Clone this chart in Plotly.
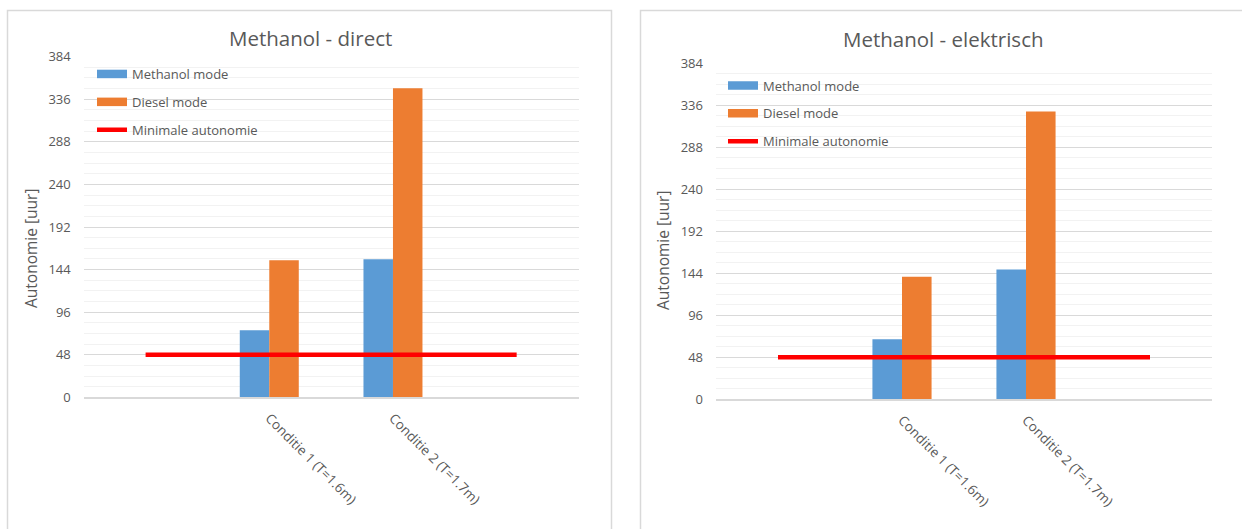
import plotly.graph_objects as go

# Categories (outer two are empty slots so the threshold line spans wider)
categories = ["", "Conditie 1 (T=1.6m)", "Conditie 2 (T=1.7m)", ""]

# Methanol - direct
direct_methanol = [None, 75.5, 155.5, None]
direct_diesel = [None, 154.5, 348.5, None]

# Methanol - elektrisch
elek_methanol = [None, 68.5, 148.3, None]
elek_diesel = [None, 140.0, 329.0, None]

# Minimum required autonomy (hours)
minimale_autonomie = [48, 48, 48, 48]

panel_titles = ["Methanol - direct", "Methanol - elektrisch"]
y_title = "Autonomie [uur]"
y_ticks = [0, 48, 96, 144, 192, 240, 288, 336, 384]
series_names = ["Methanol mode", "Diesel mode", "Minimale autonomie"]

BLUE = "#5b9bd5"
ORANGE = "#ed7d31"
RED = "#ff0000"
TEXT = "#595959"
FONT = "Open Sans"

W, H = 1242, 529
x_pos = list(range(len(categories)))


def px_x(v):
    return v / W


def px_y(v):
    return 1 - v / H


fig = go.Figure()

panels = [
    dict(xa="x", ya="y", legend="legend", m=direct_methanol, d=direct_diesel),
    dict(xa="x2", ya="y2", legend="legend2", m=elek_methanol, d=elek_diesel),
]

for i, p in enumerate(panels):
    fig.add_trace(go.Bar(x=x_pos, y=p["m"], marker=dict(color=BLUE, line=dict(width=0)),
                         name=series_names[0], showlegend=False,
                         xaxis=p["xa"], yaxis=p["ya"]))
    fig.add_trace(go.Bar(x=x_pos, y=p["d"], marker=dict(color=ORANGE, line=dict(width=0)),
                         name=series_names[1], showlegend=False,
                         xaxis=p["xa"], yaxis=p["ya"]))
    fig.add_trace(go.Scatter(x=x_pos, y=minimale_autonomie, mode="lines",
                             line=dict(color=RED, width=4.5),
                             name=series_names[2], showlegend=False,
                             xaxis=p["xa"], yaxis=p["ya"]))
    # legend entries drawn as wide swatches
    for k, (nm, col, w) in enumerate(zip(series_names, [BLUE, ORANGE, RED], [8.5, 8.5, 4.5])):
        fig.add_trace(go.Scatter(x=[None], y=[None], mode="lines",
                                 line=dict(color=col, width=w), name=nm,
                                 legend=p["legend"], legendgroup=f"{p['legend']}_{k}",
                                 xaxis=p["xa"], yaxis=p["ya"]))

# plot-area geometry (pixels)
left_area = dict(x0=83.75, x1=578.5, y0=56.7, y1=397.3)
right_area = dict(x0=716.0, x1=1212.0, y0=63.3, y1=399.3)

axis_common = dict(
    range=[-0.5, 3.5],
    tickvals=[1, 2],
    ticktext=categories[1:3],
    tickangle=45,
    showgrid=False,
    zeroline=False,
    showline=True,
    linecolor="#d9d9d9",
    linewidth=1.5,
    ticks="",
    ticklabelstandoff=6,
    tickfont=dict(family=FONT, size=13.5, color=TEXT),
    automargin=False,
    fixedrange=True,
)
yaxis_common = dict(
    range=[0, 384],
    tickvals=y_ticks,
    showgrid=True,
    gridcolor="#d9d9d9",
    gridwidth=1.2,
    minor=dict(dtick=12, showgrid=True, gridcolor="#f2f2f2", gridwidth=1.2),
    zeroline=False,
    showline=False,
    ticks="",
    ticklabelstandoff=12,
    tickfont=dict(family=FONT, size=13, color=TEXT),
    automargin=False,
    fixedrange=True,
)

legend_common = dict(
    font=dict(family=FONT, size=13, color=TEXT),
    bgcolor="rgba(0,0,0,0)",
    borderwidth=0,
    traceorder="grouped",
    tracegroupgap=8,
    xanchor="left",
    yanchor="top",
    itemclick=False,
    itemdoubleclick=False,
)

fig.update_layout(
    width=W,
    height=H,
    margin=dict(l=0, r=0, t=0, b=0, autoexpand=False),
    paper_bgcolor="white",
    plot_bgcolor="white",
    barmode="group",
    bargap=0.523,
    bargroupgap=0,
    font=dict(family=FONT, color=TEXT),
    xaxis=dict(axis_common, domain=[px_x(left_area["x0"]), px_x(left_area["x1"])], anchor="y"),
    yaxis=dict(yaxis_common, domain=[px_y(left_area["y1"]), px_y(left_area["y0"])], anchor="x"),
    xaxis2=dict(axis_common, domain=[px_x(right_area["x0"]), px_x(right_area["x1"])], anchor="y2"),
    yaxis2=dict(yaxis_common, domain=[px_y(right_area["y1"]), px_y(right_area["y0"])], anchor="x2"),
    legend=dict(legend_common, x=px_x(92), y=px_y(59)),
    legend2=dict(legend_common, x=px_x(723), y=px_y(70.5)),
    showlegend=True,
)

# panel titles
for title, cx, cy in [(panel_titles[0], 310, 38), (panel_titles[1], 943, 39)]:
    fig.add_annotation(text=title, x=px_x(cx), y=px_y(cy), xref="paper", yref="paper",
                       xanchor="center", yanchor="middle", showarrow=False,
                       font=dict(family=FONT, size=20.5, color=TEXT))

# value-axis titles, centred on plot area plus category labels
for cx, cy in [(31, 249), (663, 251)]:
    fig.add_annotation(text=y_title, x=px_x(cx), y=px_y(cy), xref="paper", yref="paper",
                       xanchor="center", yanchor="middle", showarrow=False, textangle=-90,
                       font=dict(family=FONT, size=15.5, color=TEXT))

# panel frames
fig.add_shape(type="rect", xref="paper", yref="paper",
              x0=px_x(7.5), x1=px_x(611.5), y0=px_y(560), y1=px_y(10.5),
              line=dict(color="#d9d9d9", width=1.5), fillcolor="rgba(0,0,0,0)", layer="below")
fig.add_shape(type="rect", xref="paper", yref="paper",
              x0=px_x(640.5), x1=px_x(1280), y0=px_y(560), y1=px_y(10.5),
              line=dict(color="#d9d9d9", width=1.5), fillcolor="rgba(0,0,0,0)", layer="below")

fig.write_html("out.html")
